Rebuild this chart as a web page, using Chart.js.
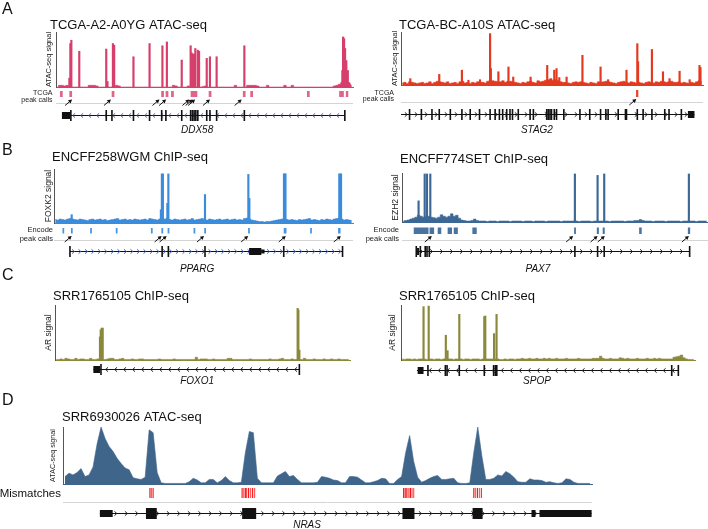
<!DOCTYPE html>
<html>
<head>
<meta charset="utf-8">
<script src="https://cdn.jsdelivr.net/npm/chart.js@4.4.1/dist/chart.umd.min.js"></script>
<style>
  html, body { margin: 0; background: #fff; }
  #wrap { position: relative; width: 708px; height: 529px; overflow: hidden; }
  canvas { position: absolute; left: 0; top: 0; }
</style>
</head>
<body>
<div id="wrap"></div>
<script>
// ---- data: positions are in genomic bins along each locus, signal in % of track ----

// A, left: DDX58 (TCGA-A2-A0YG ATAC-seq)
const ddx58Bg = [0,3,3,2,3,0,0,0,0,0, 0,0,0,3,3,3,2,0,0,0, 0,0,0,0,3,2,0,0,0,0, 0,0,0,0,0,0,0,0,0,0,
  0,0,0,0,0,0,0,3,2,0, 0,0,0,2,0,0,0,0,0,1, 2,0,0,0,0,0,0,0,0,0, 0,0,3,0,0,0,0,3,3,3,
  3,2,0,0,0,3,0,0,0,0, 0,0,3,0,0,3,0,0,0,0, 0,0,0,0,0,0,0,0,0,0, 0,0,2,3,5,8,12,10,6,3];
const ddx58Peaks = [[5.4,16],[5.8,79],[6.2,85],[9.4,65],[20.3,69],[20.8,10],[23.0,79],[23.5,76],[31.3,55],
  [37.8,79],[43.0,75],[44.8,82],[50.8,49],[54.4,75],[54.8,62],[55.1,60],[55.8,60],[56.3,70],[57.3,67],
  [57.8,65],[60.9,52],[62.2,55],[64.9,55],[76.1,75],[115.7,30],[116.0,91],[116.4,88],[116.8,70],
  [117.3,48],[117.9,30],[118.4,8]];
const ddx58Calls = [[1.6,2.7],[5.4,6.5],[22.5,23.6],[42.5,43.6],[44.3,45.4],[46.5,47.6],[54.4,57.1],
  [61.7,62.8],[75.5,76.6],[78.5,79.6],[101.4,102.5],[114.4,116.3],[117.1,118.1]];
const ddx58Arrows = [6.5, 22.2, 41.8, 44.5, 53.9, 55.2, 56.2, 62.2, 75.0];
const ddx58Span = [2.4, 116.7];
const ddx58Boxes = [[2.4, 5.8, 'utr']];
const ddx58Exons = [6.0, 20.3, 22.6, 31.3, 37.8, 42.7, 44.4, 50.8, 54.4, 55.1, 55.8, 56.5, 57.3, 60.9, 62.2, 64.9, 76.1, 116.7];

// A, right: STAG2 (TCGA-BC-A10S ATAC-seq)
const stag2Bg = [4,5,3,6,5,4,3,4,5,3, 4,6,3,5,7,6,5,4,6,3, 4,5,3,6,7,4,5,3,5,4, 6,5,5,4,7,9,8,7,6,6,
  8,5,7,7,6,5,4,3,5,4, 6,7,5,4,8,6,7,9,10,12, 9,10,8,6,5,5,4,3,5,6, 5,6,5,4,3,5,4,3,6,5,
  6,7,6,5,4,3,5,6,7,5, 4,6,5,4,5,4,3,5,6,5, 4,6,5,7,6,5,6,7,5,5, 6,4,5,4,3,5,4,6,8,7];
const stag2Peaks = [[3.7,12],[15.2,20],[24.2,28],[26.8,9],[31.4,10],[35.4,97],[35.7,31],[38.7,25],[42.7,34],
  [44.6,15],[51.5,15],[58.1,37],[60.9,28],[61.8,31],[62.9,14],[65.8,15],[72.1,56],[79.3,34],[82.3,10],
  [89.6,28],[93.9,78],[94.2,44],[99.7,67],[104.1,25],[106.7,12],[110.7,26],[114.7,10],[118.6,37],[119.0,33]];
const stag2Calls = [[93.4, 94.3]];
const stag2Arrows = [93.5];
const stag2Span = [0, 116.6];
const stag2Boxes = [[114, 116.6, 'utr']];
const stag2Exons = [3.4,8.1,12.3,15.2,19.6,24.2,27.5,31.2,35.4,37.4,39.1,40.4,42,43.3,44.3,46.6,51.3,52.6,
  57.9,58.5,59.2,59.8,60.9,61.8,64.7,71.1,75,79.3,81.4,82.3,86.3,89.2,89.6,93.9,96.2,99.7,104.8,106.5,111.4];

// B, left: PPARG (ENCFF258WGM FOXK2 ChIP-seq)
const ppargBg = [7,6,8,7,6,8,9,8,7,6, 8,7,6,5,7,8,6,7,8,6, 7,5,6,7,8,9,6,7,8,6, 7,6,8,7,6,7,8,6,9,8,
  7,6,8,9,8,10,7,6,8,7, 6,7,8,6,7,9,6,7,8,9, 7,6,8,7,6,7,8,6,7,8, 6,7,8,6,7,6,9,10,8,6,
  5,4,3,3,2,3,3,4,5,6, 7,8,9,7,6,7,6,5,7,6, 7,8,9,6,7,6,5,7,6,8, 7,6,8,9,10,8,6,7,6,5];
const ppargPeaks = [[7.1,17],[42.9,27],[43.3,100],[43.7,100],[45.5,40],[45.9,100],[60.6,58],[78.0,99],
  [78.4,50],[92.3,100],[92.6,100],[92.9,100],[114.5,100],[114.9,100],[115.2,100]];
const ppargCalls = [[3.4,4.1],[6.8,7.5],[14.5,15.2],[24.8,25.5],[38.9,39.6],[43.1,43.8],[45.6,46.3],
  [56,56.7],[60.3,61],[77.9,78.6],[92.2,93.3],[102.8,103.5],[114,115]];
const ppargArrows = [7.1, 43.2, 45.2, 60.2, 77.9, 93.0, 115.1];
const ppargSpan = [6.4, 115.8];
const ppargBoxes = [[78.3, 83.2, 'utr'], [83.2, 84.5, 'tail']];
const ppargExons = [6.4, 43.4, 45.9, 60.6, 92.2, 115.8];

// B, right: PAX7 (ENCFF774SET EZH2 ChIP-seq)
const pax7Bg = [2,3,4,6,8,10,14,12,10,11, 12,10,9,8,10,15,12,10,12,17, 12,14,8,4,3,2,2,3,6,3,
  2,2,2,1,2,2,2,1,2,2, 2,2,1,2,2,2,2,1,2,2, 2,1,2,2,2,2,1,2,2,2, 2,2,1,2,2,2,2,2,2,1,
  2,2,2,2,1,2,2,2,2,2, 2,1,2,2,2,2,2,1,2,2, 2,3,3,5,3,2,2,2,1,2, 2,2,2,1,2,2,2,2,2,1, 2,2,2,2,2,1,2,2,2,2];
const pax7Peaks = [[6.5,44],[8.9,100],[9.8,100],[11.1,100],[67.8,100],[76.7,97],[79.3,100],[112.5,100]];
const pax7Calls = [[4.6,10.4],[10.8,12.6],[14,15.4],[17.9,19.6],[20.3,21.9],[27.6,29.3],[67.5,68.2],
  [76.4,77.2],[78.7,79.5],[93,94],[112.1,113]];
const pax7Arrows = [11.7, 67.1, 76.7, 79.5, 112.5];
const pax7Span = [5.6, 112.8];
const pax7Boxes = [[5.9, 6.7, 'utr']];
const pax7Exons = [5.6, 7.2, 9.1, 9.8, 10.7, 67.8, 76.7, 79.3, 112.8];

// C, left: FOXO1 (SRR1765105 AR ChIP-seq)
const foxo1Bg = [1,1,2,1,3,2,1,1,3,1, 2,2,1,1,3,1,1,2,1,1, 1,2,3,3,1,1,2,3,1,1, 1,2,1,1,2,2,1,1,1,1,
  1,1,2,1,1,1,1,1,2,1, 1,1,1,1,1,1,1,5,1,2, 2,2,1,1,2,1,1,1,1,1, 3,3,1,1,1,1,1,1,1,2,
  1,1,1,1,1,1,1,2,1,1, 1,2,3,1,1,1,2,1,1,1, 1,3,1,1,1,2,1,1,1,2, 1,1,2,1,1,2,1,1,1,1];
const foxo1Peaks = [[18.3,42],[18.6,55],[19.0,58],[19.4,58],[98.7,94],[99.0,91],[99.4,18]];
const foxo1Span = [15.6, 99.4];
const foxo1Boxes = [[15.6, 18.3, 'utr']];
const foxo1Exons = [18.7, 99.4];

// C, right: SPOP (SRR1765105 AR ChIP-seq)
const spopBg = [2,1,2,2,1,2,1,2,2,2, 1,2,2,1,2,2,1,2,3,2, 2,1,2,2,2,1,2,2,1,2, 2,2,1,2,2,2,2,2,2,2,
  1,1,2,1,2,2,1,2,2,3, 2,2,3,2,2,3,2,2,3,2, 3,2,2,3,2,2,2,3,2,2, 2,2,3,2,2,2,2,2,3,3,
  3,7,3,2,2,3,2,2,2,4, 3,2,3,2,2,2,3,2,2,2, 3,2,2,3,2,3,2,2,2,2, 2,5,6,7,9,4,2,1,1,1];
const spopPeaks = [[9.2,97],[11.3,98],[18.3,45],[19.0,17],[23.8,83],[34.0,79],[34.4,80],[38.0,48],[39.0,83]];
const spopSpan = [6.5, 113.2];
const spopBoxes = [[6.8, 9.2, 'utr']];
const spopExons = [11, 18.1, 18.8, 23.8, 34, 37.8, 38.5, 39.1, 110.5, 113.2];

// D: NRAS (SRR6930026 ATAC-seq)
const nrasBg = [13,19,16,20,27,13,16,30,70,100, 80,66,57,45,36,28,25,11,9,8, 12,95,90,20,2,1,1,1,1,1,
  1,4,10,7,2,2,8,8,2,6, 13,6,2,2,3,55,92,90,10,2, 2,2,2,14,18,22,13,15,8,2, 2,2,2,3,13,12,10,7,6,2,
  2,13,13,12,7,2,2,4,6,10, 9,1,1,8,13,55,85,40,12,3, 6,10,13,15,8,8,9,10,2,1, 1,2,55,100,50,8,8,10,16,14,
  22,18,12,4,3,3,9,7,7,6, 3,4,2,1,2,9,8,3,1,1, 1,1];
const nrasMismatch = [[21.7,1],[22.1,0.5],[22.5,0.8],[44.7,0.9],[45.1,0.5],[45.5,1],[45.8,0.6],[46.3,1],
  [46.8,0.5],[47.3,0.9],[47.8,0.5],[85.0,1],[85.4,0.9],[85.8,1],[86.3,0.6],[86.7,1],[87.1,0.5],[87.5,0.5],
  [102.5,0.9],[102.9,0.5],[103.4,1],[103.9,0.5],[104.4,0.8]];
const nrasSpan = [9.2, 131.9];
const nrasBoxes = [[9.2,12.4,'utr'],[20.7,23.4,'cds'],[44.7,48.2,'cds'],[84.7,87.7,'cds'],
  [102.2,104.7,'cds'],[116.9,117.9,'utr'],[118.9,131.9,'utr']];

// ---- layout ----
const FONT = '"Liberation Sans", Arial, Helvetica, sans-serif';

const panels = [
  { letter: 'A', letterY: 14, title: 'TCGA-A2-A0YG ATAC-seq', titleX: 50, titleY: 29,
    left: 56, right: 353, top: 32, bottom: 87, n: 120, ymax: 100, stepped: true,
    color: '#d63f6c', callColor: '#e0648b', yLabel: 'ATAC-seq signal', yLabelX: 49, yLabelSize: 7.5,
    bg: ddx58Bg, peaks: ddx58Peaks, calls: ddx58Calls, callY: 91, callH: 6,
    callLabel: ['TCGA', 'peak calls'], callLabelX: 52.5, callLabelY: [95, 101.5], callLabelSize: 7,
    arrows: ddx58Arrows, arrowY: 99.5, ruleY: 103.5,
    gene: { name: 'DDX58', span: ddx58Span, boxes: ddx58Boxes, exons: ddx58Exons, strand: -1, labelAt: 57 },
    geneY: 115, geneLabelY: 133, chevColor: '#5b5ba8', chevGap: 8 },
  { title: 'TCGA-BC-A10S ATAC-seq', titleX: 399, titleY: 29,
    left: 401, right: 703, top: 32, bottom: 85, n: 120, ymax: 100, stepped: true,
    color: '#e2391f', callColor: '#e8452b', yLabel: 'ATAC-seq signal', yLabelX: 395, yLabelSize: 7.5,
    bg: stag2Bg, peaks: stag2Peaks, calls: stag2Calls, callY: 90, callH: 7,
    callLabel: ['TCGA', 'peak calls'], callLabelX: 394, callLabelY: [94.5, 101], callLabelSize: 7,
    arrows: stag2Arrows, arrowY: 99, ruleY: 102.5,
    gene: { name: 'STAG2', span: stag2Span, boxes: stag2Boxes, exons: stag2Exons, strand: 1, labelAt: 54 },
    geneY: 114, geneLabelY: 133, chevColor: '#222', chevGap: 10 },
  { letter: 'B', letterY: 155, title: 'ENCFF258WGM ChIP-seq', titleX: 52, titleY: 160.5,
    left: 54, right: 353, top: 169, bottom: 223, n: 120, ymax: 110, stepped: true,
    color: '#3b8cdc', callColor: '#4795e0', yLabel: 'FOXK2 signal', yLabelX: 48.5, yLabelSize: 8.5,
    bg: ppargBg, peaks: ppargPeaks, calls: ppargCalls, callY: 228, callH: 5.5,
    callLabel: ['Encode', 'peak calls'], callLabelX: 53, callLabelY: [231.5, 241], callLabelSize: 7.5,
    arrows: ppargArrows, arrowY: 236, ruleY: 240.5,
    gene: { name: 'PPARG', span: ppargSpan, boxes: ppargBoxes, exons: ppargExons, strand: 1, labelAt: 57.4 },
    geneY: 250.5, geneLabelY: 272, chevColor: '#4a67b5', chevGap: 6.5 },
  { title: 'ENCFF774SET ChIP-seq', titleX: 400, titleY: 163,
    left: 402, right: 708, top: 173, bottom: 222, n: 120, ymax: 102, stepped: true,
    color: '#3d6895', callColor: '#4a739f', yLabel: 'EZH2 signal', yLabelX: 396, yLabelSize: 8.5,
    bg: pax7Bg, peaks: pax7Peaks, calls: pax7Calls, callY: 227.5, callH: 6.5,
    callLabel: ['Encode', 'peak calls'], callLabelX: 399, callLabelY: [231.5, 241], callLabelSize: 7.5,
    arrows: pax7Arrows, arrowY: 236, ruleY: 240.5,
    gene: { name: 'PAX7', span: pax7Span, boxes: pax7Boxes, exons: pax7Exons, strand: 1, labelAt: 53.3 },
    geneY: 250.5, geneLabelY: 272, chevColor: '#222', chevGap: 10 },
  { letter: 'C', letterY: 280, title: 'SRR1765105 ChIP-seq', titleX: 53, titleY: 299.5,
    left: 55, right: 350, top: 305, bottom: 360, n: 120, ymax: 100, stepped: true,
    color: '#8a893b', yLabel: 'AR signal', yLabelX: 48.5, yLabelSize: 8.5,
    bg: foxo1Bg, peaks: foxo1Peaks,
    gene: { name: 'FOXO1', span: foxo1Span, boxes: foxo1Boxes, exons: foxo1Exons, strand: -1, labelAt: 57.8 },
    geneY: 369, geneLabelY: 384, chevColor: '#222', chevGap: 9 },
  { title: 'SRR1765105 ChIP-seq', titleX: 399, titleY: 299.5,
    left: 401, right: 695, top: 305, bottom: 360, n: 120, ymax: 100, stepped: true,
    color: '#8a893b', yLabel: 'AR signal', yLabelX: 393, yLabelSize: 8.5,
    bg: spopBg, peaks: spopPeaks,
    gene: { name: 'SPOP', span: spopSpan, boxes: spopBoxes, exons: spopExons, strand: -1, labelAt: 55.5 },
    geneY: 370, geneLabelY: 384, chevColor: '#222', chevGap: 9 },
  { letter: 'D', letterY: 405, title: 'SRR6930026 ATAC-seq', titleX: 62, titleY: 420.5,
    left: 63, right: 592, top: 427, bottom: 484, n: 132, ymax: 100, stepped: false,
    color: '#3f658b', yLabel: 'ATAC-seq signal', yLabelX: 53.5, yLabelSize: 7.2,
    bg: nrasBg, peaks: [],
    mismatches: nrasMismatch, mismatchY: 488, mismatchH: 10, mismatchLabelY: 497, ruleY: 502.5,
    gene: { name: 'NRAS', span: nrasSpan, boxes: nrasBoxes, exons: [], strand: 1, labelAt: 60.9 },
    geneY: 512.5, geneLabelY: 528, chevColor: '#222', chevGap: 10.5 }
];

function drawArrow(ctx, tx, ty) {
  const dx = 7, dy = 6;
  const ang = Math.atan2(-dy, dx);
  ctx.beginPath();
  ctx.moveTo(tx - dx, ty + dy);
  ctx.lineTo(tx - 2.5 * Math.cos(ang), ty - 2.5 * Math.sin(ang));
  ctx.stroke();
  ctx.beginPath();
  ctx.moveTo(tx, ty);
  ctx.lineTo(tx - 4.2 * Math.cos(ang - 0.5), ty - 4.2 * Math.sin(ang - 0.5));
  ctx.lineTo(tx - 4.2 * Math.cos(ang + 0.5), ty - 4.2 * Math.sin(ang + 0.5));
  ctx.closePath();
  ctx.fill();
}

function trackLayer(p) {
  return {
    id: 'trackLayer',
    afterDraw(chart) {
      const ctx = chart.ctx;
      const X = v => chart.scales.x.getPixelForValue(v);
      const area = chart.chartArea;
      ctx.save();
      ctx.fillStyle = '#111';
      ctx.textBaseline = 'alphabetic';

      if (p.letter) {
        ctx.font = '16px ' + FONT;
        ctx.fillText(p.letter, 2, p.letterY);
      }
      ctx.font = '13px ' + FONT;
      ctx.fillText(p.title, p.titleX, p.titleY);

      // y axis label
      ctx.save();
      ctx.translate(p.yLabelX, (p.top + p.bottom) / 2);
      ctx.rotate(-Math.PI / 2);
      ctx.font = p.yLabelSize + 'px ' + FONT;
      ctx.textAlign = 'center';
      ctx.textBaseline = 'middle';
      ctx.fillStyle = '#222';
      ctx.fillText(p.yLabel, 0, 0);
      ctx.restore();

      // separator under peak calls / mismatches
      if (p.ruleY) {
        ctx.strokeStyle = '#d4d4d4';
        ctx.lineWidth = 1;
        ctx.beginPath();
        ctx.moveTo(area.left, p.ruleY);
        ctx.lineTo(area.right, p.ruleY);
        ctx.stroke();
      }

      // peak calls + arrows
      if (p.calls) {
        ctx.fillStyle = p.callColor;
        p.calls.forEach(([a, b]) => ctx.fillRect(X(a), p.callY, Math.max(X(b) - X(a), 1.5), p.callH));
        ctx.fillStyle = '#222';
        ctx.font = p.callLabelSize + 'px ' + FONT;
        ctx.textAlign = 'right';
        ctx.fillText(p.callLabel[0], p.callLabelX, p.callLabelY[0]);
        ctx.fillText(p.callLabel[1], p.callLabelX, p.callLabelY[1]);
        ctx.textAlign = 'left';
        ctx.strokeStyle = '#111';
        ctx.fillStyle = '#111';
        ctx.lineWidth = 1;
        p.arrows.forEach(v => drawArrow(ctx, X(v), p.arrowY));
      }

      // mismatches
      if (p.mismatches) {
        ctx.lineWidth = 1.2;
        p.mismatches.forEach(([v, f]) => {
          ctx.strokeStyle = 'rgba(250,20,20,' + (0.35 + 0.65 * f) + ')';
          ctx.beginPath();
          ctx.moveTo(X(v), p.mismatchY);
          ctx.lineTo(X(v), p.mismatchY + p.mismatchH);
          ctx.stroke();
        });
        ctx.fillStyle = '#111';
        ctx.font = '11.5px ' + FONT;
        ctx.textAlign = 'right';
        ctx.fillText('Mismatches', 61, p.mismatchLabelY);
        ctx.textAlign = 'left';
      }

      // gene model
      const g = p.gene;
      const gy = Math.round(p.geneY) + 0.5;
      const x0 = X(g.span[0]), x1 = X(g.span[1]);
      ctx.strokeStyle = '#111';
      ctx.lineWidth = 1;
      ctx.beginPath();
      ctx.moveTo(x0, gy);
      ctx.lineTo(x1, gy);
      ctx.stroke();
      ctx.strokeStyle = p.chevColor;
      for (let cx = x0 + p.chevGap / 2; cx < x1 - 2; cx += p.chevGap) {
        const s = g.strand;
        ctx.beginPath();
        ctx.moveTo(cx - s * 1.2, gy - 2.2);
        ctx.lineTo(cx + s * 1.2, gy);
        ctx.lineTo(cx - s * 1.2, gy + 2.2);
        ctx.stroke();
      }
      ctx.fillStyle = '#111';
      g.exons.forEach(e => ctx.fillRect(X(e) - 0.8, gy - 5.5, 1.6, 11));
      g.boxes.forEach(([a, b, t]) => {
        const h = t === 'cds' ? 11 : t === 'tail' ? 4 : 7;
        ctx.fillRect(X(a), gy - h / 2, X(b) - X(a), h);
      });
      ctx.font = 'italic 10px ' + FONT;
      ctx.textAlign = 'center';
      ctx.fillText(g.name, X(g.labelAt), p.geneLabelY);
      ctx.restore();
    }
  };
}

const wrap = document.getElementById('wrap');
panels.forEach(p => {
  const canvas = document.createElement('canvas');
  canvas.width = 708;
  canvas.height = 529;
  wrap.appendChild(canvas);
  new Chart(canvas.getContext('2d'), {
    type: 'bar',
    data: {
      datasets: [
        {
          type: 'bar',
          data: p.peaks.map(([x, y]) => ({ x, y })),
          backgroundColor: p.color,
          barThickness: 1.5,
          order: 1
        },
        {
          type: 'line',
          data: p.bg.map((y, i) => ({ x: i + 0.5, y })),
          backgroundColor: p.color,
          borderColor: p.color,
          borderWidth: 0.6,
          fill: 'origin',
          stepped: p.stepped ? 'middle' : false,
          tension: 0,
          pointRadius: 0,
          order: 2
        }
      ]
    },
    options: {
      responsive: false,
      animation: false,
      events: [],
      layout: { padding: { left: p.left, right: 708 - p.right, top: p.top, bottom: 529 - p.bottom } },
      plugins: { legend: { display: false }, tooltip: { enabled: false } },
      scales: {
        x: {
          type: 'linear', min: 0, max: p.n, offset: false,
          ticks: { display: false },
          grid: { display: false, drawTicks: false },
          border: { display: true, color: p.color, width: 1 }
        },
        y: {
          min: 0, max: p.ymax,
          ticks: { display: false },
          grid: { display: false, drawTicks: false },
          border: { display: true, color: '#555', width: 1 }
        }
      }
    },
    plugins: [trackLayer(p)]
  });
});
</script>
</body>
</html>
